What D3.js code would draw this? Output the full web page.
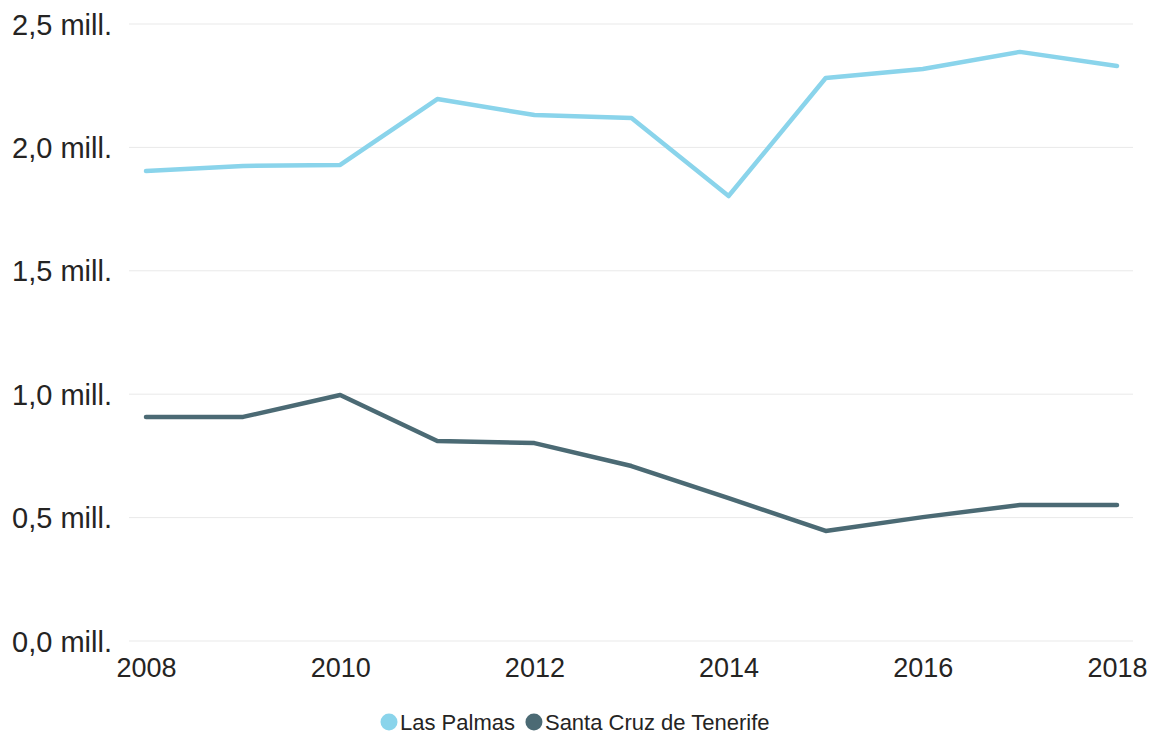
<!DOCTYPE html>
<html>
<head>
<meta charset="utf-8">
<script src="https://cdn.jsdelivr.net/npm/d3@7"></script>
<style>
  body { margin: 0; background: #fff; }
  text { font-family: 'Segoe UI', 'Liberation Sans', Arial, sans-serif; fill: #252423; }
</style>
</head>
<body>
<svg id="chart" width="1159" height="737"></svg>
<script>
// data (millions of tourists)
const years = [2008, 2009, 2010, 2011, 2012, 2013, 2014, 2015, 2016, 2017, 2018]
const lasPalmas = [1.904, 1.925, 1.929, 2.196, 2.131, 2.119, 1.803, 2.281, 2.318, 2.387, 2.330]
const santaCruz = [0.908, 0.908, 0.997, 0.810, 0.802, 0.709, 0.579, 0.446, 0.502, 0.551, 0.551]
const seriesNames = ['Las Palmas', 'Santa Cruz de Tenerife']
const yTicks = [0, 0.5, 1.0, 1.5, 2.0, 2.5]
const xTicks = [2008, 2010, 2012, 2014, 2016, 2018]

const colors = ['#8AD4EB', '#4B6A74']
const margin = { left: 129, right: 26, top: 24, bottom: 96 }
const width = 1159
const height = 737

const svg = d3.select('#chart')

const xScale = d3.scaleLinear().domain([2008, 2018]).range([146, 1117])
const yScale = d3.scaleLinear().domain([0, 2.5]).range([height - margin.bottom, margin.top])

// gridlines
svg.append('g')
  .selectAll('line')
  .data(yTicks)
  .enter()
  .append('line')
  .attr('x1', margin.left)
  .attr('x2', width - margin.right)
  .attr('y1', d => yScale(d))
  .attr('y2', d => yScale(d))
  .attr('stroke', '#e9e9e9')
  .attr('stroke-width', 1)

// y axis labels
const fmt = d => d3.format('.1f')(d).replace('.', ',') + ' mill.'
const yAxis = d3.axisLeft(yScale).tickValues(yTicks).tickFormat(fmt).tickSize(0).tickPadding(0)
const gy = svg.append('g')
  .attr('transform', 'translate(112, 0)')
  .call(yAxis)
gy.select('.domain').remove()
gy.selectAll('text')
  .style('font-size', '29px')
  .attr('fill', '#252423')
  .attr('dy', '0.35em')

// x axis labels
const xAxis = d3.axisBottom(xScale).tickValues(xTicks).tickFormat(d3.format('d')).tickSize(0).tickPadding(0)
const gx = svg.append('g')
  .attr('transform', 'translate(0, 677)')
  .call(xAxis)
gx.select('.domain').remove()
gx.selectAll('text')
  .style('font-size', '27px')
  .attr('fill', '#252423')
  .attr('dy', 0)

// lines
const line = d3.line()
  .x((d, i) => xScale(years[i]))
  .y(d => yScale(d))

svg.append('g')
  .selectAll('path')
  .data([lasPalmas, santaCruz])
  .enter()
  .append('path')
  .attr('d', line)
  .attr('fill', 'none')
  .attr('stroke', (d, i) => colors[i])
  .attr('stroke-width', 4.5)
  .attr('stroke-linejoin', 'round')
  .attr('stroke-linecap', 'round')

// legend
const legend = svg.append('g').attr('transform', 'translate(380, 722)')
let offset = 0
seriesNames.forEach((name, i) => {
  const item = legend.append('g').attr('transform', `translate(${offset}, 0)`)
  item.append('circle')
    .attr('cx', 9)
    .attr('cy', 0)
    .attr('r', 8.5)
    .attr('fill', colors[i])
  const t = item.append('text')
    .attr('x', 20)
    .attr('y', 8)
    .style('font-size', '22px')
    .text(name)
  offset += 20 + t.node().getComputedTextLength() + 10
})
</script>
</body>
</html>
